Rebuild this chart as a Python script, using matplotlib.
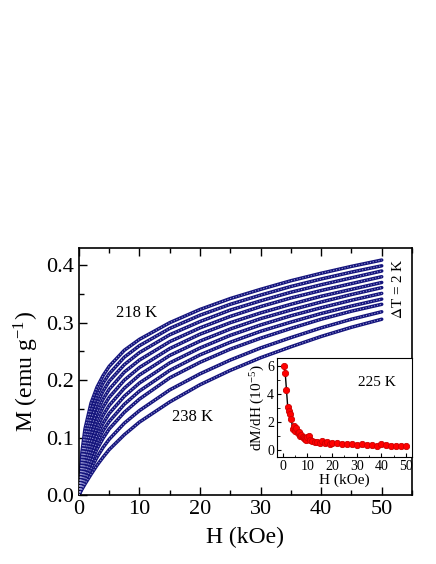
import matplotlib
matplotlib.use("Agg")
import matplotlib.pyplot as plt
from matplotlib.ticker import MultipleLocator

plt.rcParams['font.family'] = ['Liberation Serif', 'DejaVu Serif']
plt.rcParams['mathtext.fontset'] = 'stix'

# ---------------- data ----------------
H = [0, 0.5, 1, 2, 3, 4, 5, 7.5, 10, 15, 20, 25, 30, 35, 40, 45, 50]
temps = [218, 220, 222, 224, 226, 228, 230, 232, 234, 236, 238]
M_218 = [0, 0.075, 0.115, 0.160, 0.188, 0.208, 0.224, 0.252, 0.271, 0.300, 0.323, 0.342, 0.358, 0.373, 0.386, 0.398, 0.409]
M_220 = [0, 0.062, 0.100, 0.146, 0.174, 0.195, 0.211, 0.240, 0.260, 0.290, 0.313, 0.332, 0.348, 0.363, 0.376, 0.388, 0.399]
M_222 = [0, 0.052, 0.088, 0.132, 0.160, 0.181, 0.198, 0.227, 0.248, 0.279, 0.302, 0.322, 0.338, 0.353, 0.366, 0.378, 0.390]
M_224 = [0, 0.043, 0.076, 0.118, 0.146, 0.167, 0.184, 0.214, 0.235, 0.267, 0.291, 0.311, 0.328, 0.343, 0.356, 0.368, 0.380]
M_226 = [0, 0.035, 0.065, 0.104, 0.132, 0.153, 0.170, 0.200, 0.222, 0.255, 0.280, 0.300, 0.317, 0.332, 0.346, 0.358, 0.370]
M_228 = [0, 0.028, 0.054, 0.091, 0.118, 0.139, 0.156, 0.186, 0.209, 0.243, 0.268, 0.289, 0.307, 0.322, 0.336, 0.349, 0.361]
M_230 = [0, 0.022, 0.044, 0.079, 0.105, 0.125, 0.142, 0.172, 0.195, 0.230, 0.256, 0.278, 0.296, 0.312, 0.326, 0.339, 0.351]
M_232 = [0, 0.018, 0.036, 0.068, 0.092, 0.112, 0.128, 0.158, 0.181, 0.217, 0.244, 0.266, 0.285, 0.301, 0.316, 0.329, 0.341]
M_234 = [0, 0.015, 0.029, 0.057, 0.080, 0.099, 0.115, 0.144, 0.167, 0.204, 0.231, 0.254, 0.273, 0.290, 0.306, 0.320, 0.332]
M_236 = [0, 0.012, 0.024, 0.046, 0.066, 0.083, 0.097, 0.125, 0.147, 0.183, 0.211, 0.235, 0.256, 0.274, 0.291, 0.306, 0.319]
M_238 = [0, 0.010, 0.019, 0.036, 0.052, 0.066, 0.079, 0.105, 0.127, 0.162, 0.192, 0.217, 0.239, 0.258, 0.276, 0.292, 0.306]
curves = [M_218, M_220, M_222, M_224, M_226, M_228, M_230, M_232, M_234, M_236, M_238]

# inset: dM/dH at 225 K (units of 1e-5)
H_in = [0.5, 1.0, 1.5, 2.0, 2.5, 3.0, 3.5, 4.0, 4.5, 5.0, 5.5, 6.0, 6.5, 7.0, 7.5, 8.0, 8.5, 9.0,
        9.5, 10.0, 10.5, 11.0, 12.0, 13.0, 14.0, 15.0, 16.0, 17.0, 18.0, 19.0, 20.0, 22.0, 24.0,
        26.0, 28.0, 30.0, 32.0, 34.0, 36.0, 38.0, 40.0, 42.0, 44.0, 46.0, 48.0, 50.0]
dMdH = [6.0, 5.5, 4.3, 3.1, 2.8, 2.6, 2.2, 1.5, 1.7, 1.4, 1.6, 1.2, 1.3, 1.0, 1.1, 0.9, 0.85, 0.8,
        0.75, 0.9, 1.0, 0.7, 0.65, 0.6, 0.55, 0.5, 0.65, 0.5, 0.6, 0.45, 0.5, 0.5, 0.45,
        0.4, 0.4, 0.35, 0.4, 0.35, 0.35, 0.3, 0.45, 0.35, 0.3, 0.3, 0.3, 0.3]

# ---------------- figure ----------------
fig = plt.figure(figsize=(4.36, 5.64), dpi=100)
ax = fig.add_axes([0.181, 0.1223, 0.764, 0.438])

for M in curves:
    ax.plot(H, M, color='#14147c', lw=2.5, solid_capstyle='round', zorder=2)
    ax.plot(H, M, color='#9a9ad6', lw=0.8, ls=(0, (1, 1.6)), zorder=3)

ax.set_xlim(0, 55)
ax.set_ylim(0, 0.43)
ax.xaxis.set_major_locator(MultipleLocator(10))
ax.xaxis.set_minor_locator(MultipleLocator(5))
ax.yaxis.set_major_locator(MultipleLocator(0.1))
ax.yaxis.set_minor_locator(MultipleLocator(0.05))
ax.yaxis.set_major_formatter(matplotlib.ticker.FormatStrFormatter('%.1f'))
ax.tick_params(which='both', direction='in', top=True, right=False, labelsize=16)
ax.tick_params(which='major', length=6, width=1)
ax.tick_params(which='minor', length=3.5, width=1)
for s in ax.spines.values():
    s.set_linewidth(1.2)
ax.set_xlabel('H (kOe)', fontsize=17, labelpad=6)
ax.set_ylabel(r'M (emu g$^{\mathregular{-1}}$)', fontsize=17, labelpad=4)

ax.text(6.2, 0.31, '218 K', fontsize=12)
ax.text(15.3, 0.128, '238 K', fontsize=12)
ax.text(51.6, 0.412, r'$\Delta$T = 2 K', fontsize=11, rotation=90, va='top', ha='left')

# inset
ins = fig.add_axes([0.635, 0.1897, 0.310, 0.1755])
ins.plot(H_in, dMdH, color='black', lw=1, zorder=2)
ins.plot(H_in, dMdH, 'o', color='red', ms=4.5, mec='#cc0000', mew=0.6, zorder=3)
ins.set_xlim(-2.4, 52.4)
ins.set_ylim(-0.5, 6.6)
ins.xaxis.set_major_locator(MultipleLocator(10))
ins.xaxis.set_minor_locator(MultipleLocator(5))
ins.yaxis.set_major_locator(MultipleLocator(2))
ins.yaxis.set_minor_locator(MultipleLocator(1))
ins.tick_params(which='both', direction='in', labelsize=10, pad=2)
ins.tick_params(which='major', length=3)
ins.tick_params(which='minor', length=1.8)
ins.set_xlabel('H (kOe)', fontsize=11, labelpad=0.5)
ins.set_ylabel(r'dM/dH (10$^{\mathregular{-5}}$)', fontsize=11, labelpad=1)
ins.text(0.6, 0.72, '225 K', transform=ins.transAxes, fontsize=11)

fig.savefig('out.png', dpi=100)
